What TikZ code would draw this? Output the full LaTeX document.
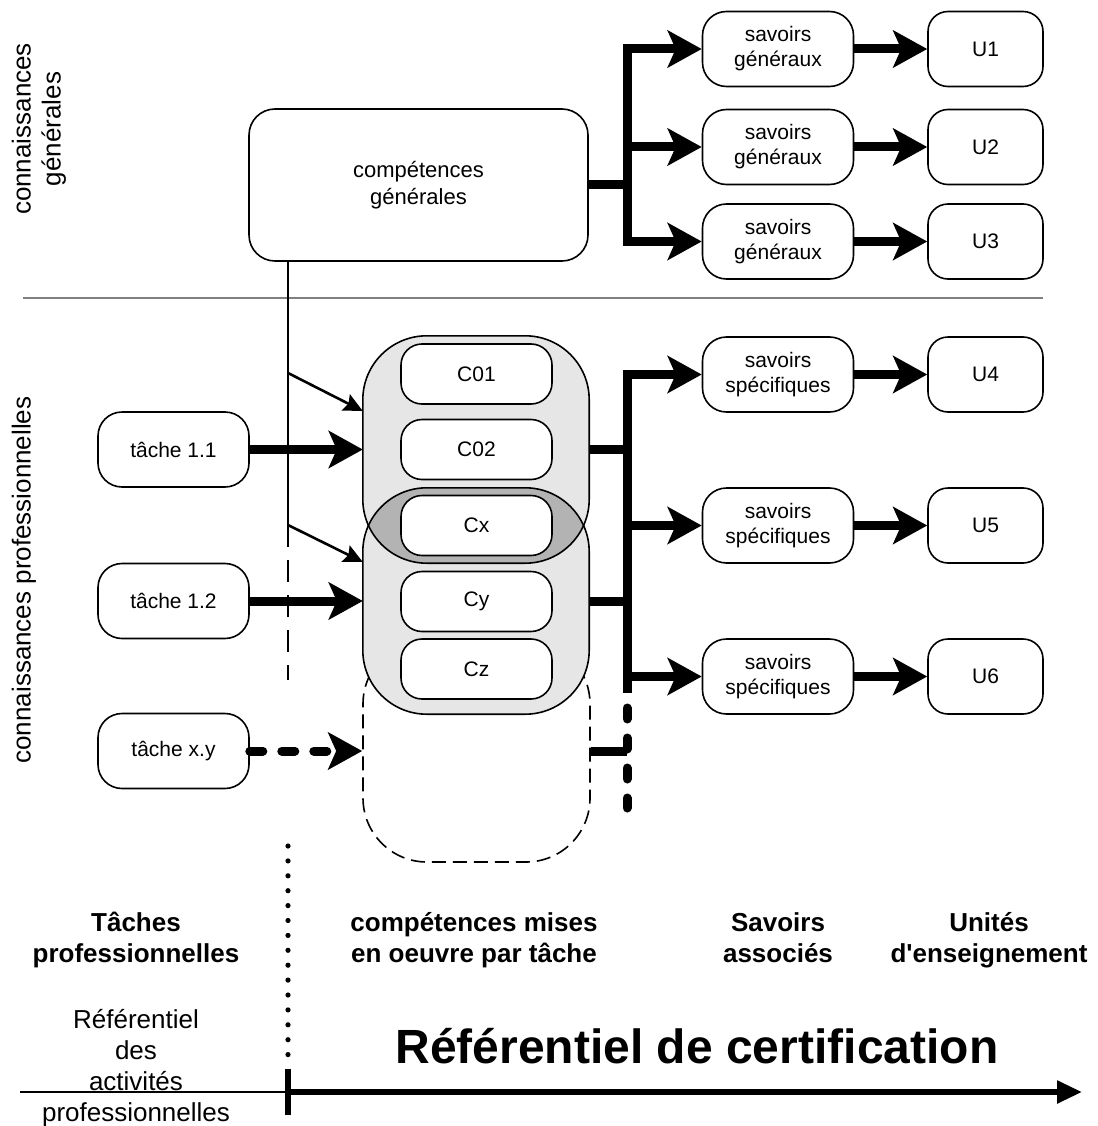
\documentclass[tikz,border=0pt]{standalone}
\usepackage{fontspec}
\setmainfont[Ligatures=TeXOff]{Liberation Sans}
\usetikzlibrary{arrows.meta,calc}
\definecolor{lgray}{HTML}{E6E6E6}
\definecolor{dgray}{HTML}{B3B3B3}
\definecolor{sepgray}{HTML}{808080}
\begin{document}
\begin{tikzpicture}[x=1pt,y=-1pt,
  box/.style={draw, line width=1.6pt, fill=white, rounded corners=24pt, minimum width=151pt, minimum height=75pt, inner sep=0pt, align=center, font=\fontsize{21}{25}\selectfont},
  ubox/.style={box, rounded corners=20pt, minimum width=115pt},
  cbox/.style={box, rounded corners=21pt, minimum height=60pt},
  capsule/.style={fill=lgray, minimum width=226pt, minimum height=227pt, inner sep=0pt, rounded corners=64pt},
  bigarrow/.style={line width=9pt, -{Stealth[length=34pt,width=37pt,inset=8pt]}},
  bigline/.style={line width=9pt},
  thinline/.style={line width=2.6pt},
  thinarrow/.style={line width=2.6pt, -{Stealth[length=19pt,width=18pt,inset=3pt]}},
  heading/.style={align=center, font=\fontsize{26}{31}\selectfont\bfseries, inner sep=0pt, execute at begin node=\strut, execute at end node=\strut},
  lab/.style={align=center, font=\fontsize{26}{30}\selectfont, inner sep=0pt},
  lab2/.style={align=center, font=\fontsize{26}{31}\selectfont, inner sep=0pt, execute at begin node=\strut, execute at end node=\strut},
]
\useasboundingbox (0,0) rectangle (1097,1126);

% separator
\draw[sepgray, line width=1.5pt] (23,298) -- (1043,298);

% side labels
\node[lab, rotate=90] (lgen) at (39,129) {connaissances\\générales};
\node[lab, rotate=90] (lpro) at (24,580) {connaissances professionnelles};

% upper part
\node[box, minimum width=339pt, minimum height=152pt, rounded corners=26pt, font=\fontsize{22}{27}\selectfont] (comp) at (418.5,185) {compétences\\générales};
\node[box] (savG1) at (778,49) {savoirs\\généraux};
\node[box] (savG2) at (778,147) {savoirs\\généraux};
\node[box] (savG3) at (778,241.5) {savoirs\\généraux};
\node[ubox] (U1) at (985.5,49) {U1};
\node[ubox] (U2) at (985.5,147) {U2};
\node[ubox] (U3) at (985.5,241.5) {U3};

% capsules
\node[draw, dash pattern=on 14pt off 7pt, line width=1.6pt, rounded corners=64pt, minimum width=227pt, minimum height=222pt, inner sep=0pt] (capX) at (476.5,751) {};
\node[capsule] (capA) at (476,449.5) {};
\node[capsule, minimum height=226pt] (capB) at (476,601) {};
\begin{scope}
  \clip[rounded corners=64pt] (capA.south west) rectangle (capA.north east);
  \fill[dgray, rounded corners=64pt] (capB.south west) rectangle (capB.north east);
\end{scope}
\draw[line width=1.6pt, rounded corners=64pt] (capA.south west) rectangle (capA.north east);
\draw[line width=1.6pt, rounded corners=64pt] (capB.south west) rectangle (capB.north east);

\node[cbox] (C01) at (476.5,374) {C01};
\node[cbox] (C02) at (476.5,449.5) {C02};
\node[cbox] (Cx) at (476.5,525.5) {Cx};
\node[cbox] (Cy) at (476.5,601.5) {Cy};
\node[cbox] (Cz) at (476.5,669) {Cz};

% tasks
\node[box] (t11) at (173.5,449.5) {tâche 1.1};
\node[box] (t12) at (173.5,601) {tâche 1.2};
\node[box] (txy) at (173.5,751) {tâche x.y};

% savoirs spécifiques
\node[box] (savS1) at (778,374.5) {savoirs\\spécifiques};
\node[box] (savS2) at (778,525.5) {savoirs\\spécifiques};
\node[box] (savS3) at (778,676.5) {savoirs\\spécifiques};
\node[ubox] (U4) at (985.5,374.5) {U4};
\node[ubox] (U5) at (985.5,525.5) {U5};
\node[ubox] (U6) at (985.5,676.5) {U6};

% vertical line from competences generales
\coordinate (vx) at (288,0);
\coordinate (j1) at (288,373);
\coordinate (j2) at (288,525);
\coordinate (j3) at (288,547);
\coordinate (d0) at (288,560);
\coordinate (d1) at (288,680);
\draw[thinline] (comp.south -| vx) -- (j3);
\draw[thinline, dash pattern=on 22pt off 13pt] (d0) -- (d1);
\draw[thinarrow] (j1) -- ($(capA.west)+(0,-38.5)$);
\draw[thinarrow] (j2) -- ($(capB.west)+(0,-39)$);

% task arrows
\draw[bigarrow] (t11.east) -- (capA.west);
\draw[bigarrow] (t12.east) -- (capB.west);
\draw[bigarrow, line cap=round, dash pattern=on 13pt off 19pt] (txy.east) -- (capX.west);

% right trunk (lower)
\coordinate (tx) at (627,0);
\coordinate (tb) at (627,688);
\coordinate (td0) at (627,708);
\coordinate (td1) at (627,808);
\draw[bigline] (capA.east) -- (capA.east -| tx);
\draw[bigline] (capB.east) -- (capB.east -| tx);
\draw[bigline] (capX.east) -- (capX.east -| tx);
\draw[bigline, line cap=rect] (savS1.west -| tx) -- (tb);
\draw[bigline, line cap=round, dash pattern=on 11pt off 19pt] (td0) -- (td1);
\draw[bigarrow] (savS1.west -| tx) -- (savS1.west);
\draw[bigarrow] (savS2.west -| tx) -- (savS2.west);
\draw[bigarrow] (savS3.west -| tx) -- (savS3.west);
\draw[bigarrow] (savS1.east) -- (U4.west);
\draw[bigarrow] (savS2.east) -- (U5.west);
\draw[bigarrow] (savS3.east) -- (U6.west);

% right trunk (upper)
\draw[bigline] (comp.east) -- (comp.east -| tx);
\draw[bigline, line cap=rect] (savG1.west -| tx) -- (savG3.west -| tx);
\draw[bigarrow] (savG1.west -| tx) -- (savG1.west);
\draw[bigarrow] (savG2.west -| tx) -- (savG2.west);
\draw[bigarrow] (savG3.west -| tx) -- (savG3.west);
\draw[bigarrow] (savG1.east) -- (U1.west);
\draw[bigarrow] (savG2.east) -- (U2.west);
\draw[bigarrow] (savG3.east) -- (U3.west);

% headings
\node[heading] (h1) at (136,942) {Tâches\\professionnelles};
\node[heading] (h2) at (474,942) {compétences mises\\en oeuvre par tâche};
\node[heading] (h3) at (778,942) {Savoirs\\associés};
\node[heading] (h4) at (989,942) {Unités\\d'enseignement};
\node[lab2] (rap) at (136,1070) {Référentiel\\des\\activités\\professionnelles};

% bottom axis
\foreach \i in {0,...,14} \fill (288,{846+\i*14.9}) circle (2.6pt);
\coordinate (ax0) at (20,1092);
\coordinate (ax1) at (288,1092);
\coordinate (ax2) at (1082,1092);
\coordinate (tk0) at (288,1069);
\coordinate (tk1) at (288,1115);
\draw[line width=2pt] (ax0) -- (ax1);
\draw[line width=5.5pt, -{Triangle[length=25pt,width=22pt]}] (ax1) -- (ax2);
\draw[line width=6pt] (tk0) -- (tk1);
\node[anchor=base, inner sep=0pt, font=\fontsize{48}{56}\selectfont\bfseries] (title) at (697,1063) {Référentiel de certification};
\end{tikzpicture}
\end{document}
